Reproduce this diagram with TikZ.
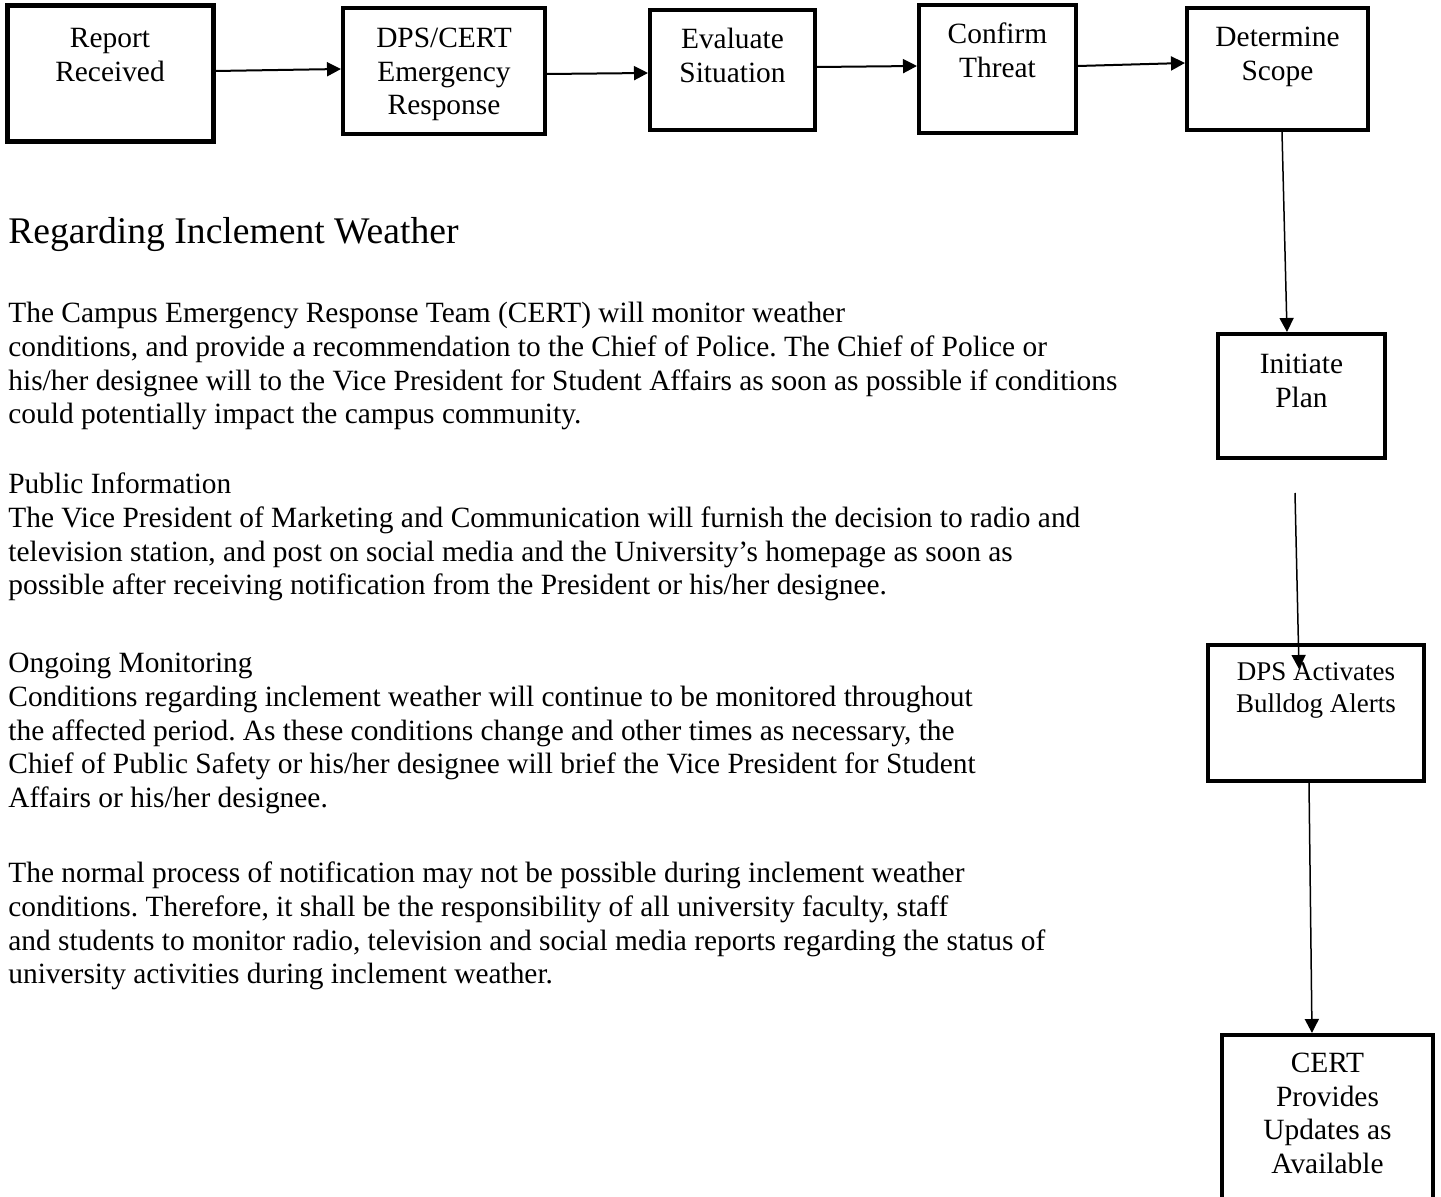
\documentclass[tikz,border=0pt]{standalone}
\usepackage{fontspec}
\setmainfont{Liberation Serif}
\usetikzlibrary{arrows.meta}
\frenchspacing

\begin{document}
\begin{tikzpicture}[x=0.5pt, y=-0.5pt,
  stepbox/.style n args={3}{draw, line width=2pt, inner sep=0pt,
    font=\fontsize{14.7}{16.9}\selectfont,
    execute at begin node={\begin{minipage}[c][#2][t]{#1}\centering\vspace*{#3}\strut},
    execute at end node={\end{minipage}}},
  flow/.style={-{Triangle[length=7pt, width=7pt]}, line width=1pt},
  body/.style={anchor=north west, inner sep=0pt, align=left,
    font=\fontsize{14.7}{16.9}\selectfont}]
  \clip (0,0) rectangle (1441,1197);
  \fill[white] (0,0) rectangle (1441,1197);

  \node[stepbox={103pt}{68pt}{8.8pt}, line width=2.5pt] (rep) at (110,74) {Report\\Received};
  \node[stepbox={101pt}{63pt}{7.8pt}] (dps) at (444,71) {DPS/CERT\\Emergency\\Response};
  \node[stepbox={82.5pt}{60pt}{7.3pt}] (eval) at (732.5,70) {Evaluate\\Situation};
  \node[stepbox={78.5pt}{64pt}{7.3pt}] (conf) at (997.5,69) {Confirm\\Threat};
  \node[stepbox={90.5pt}{61pt}{7.3pt}] (det) at (1277.5,69) {Determine\\Scope};
  \node[stepbox={83.5pt}{62pt}{7.8pt}] (init) at (1301.5,396) {Initiate\\Plan};
  \node[stepbox={108pt}{68pt}{7pt}, font=\fontsize{13.5}{15.6}\selectfont] (alert) at (1316,713) {DPS Activates\\Bulldog Alerts};
  \node[stepbox={105.5pt}{92.5pt}{6.8pt}] (cert) at (1327.5,1127.5) {CERT\\Provides\\Updates as\\Available};

  \draw[flow] ([yshift=1.5pt]rep.east) -- ([yshift=1pt]dps.west);
  \draw[flow] ([yshift=-1.5pt]dps.east) -- ([yshift=-1.5pt]eval.west);
  \draw[flow] ([yshift=1.5pt]eval.east) -- ([yshift=1.5pt]conf.west);
  \draw[flow] ([yshift=1.5pt]conf.east) -- ([yshift=3pt]det.west);
  \draw[flow, line width=0.75pt] ([xshift=2.25pt]det.south) -- ([xshift=-7.25pt]init.north);
  \coordinate (gap) at (1295,493);
  \draw[flow, line width=0.75pt] (gap) -- ([xshift=-8.5pt, yshift=-13pt]alert.north);
  \draw[flow, line width=0.75pt] ([xshift=-3.5pt]alert.south) -- ([xshift=-7.75pt]cert.north);

  \node[anchor=base west, inner sep=0pt, font=\fontsize{18.8}{22}\selectfont] (head) at (8,244) {Regarding Inclement Weather};
  \node[body] (p1) at (8,298.4) {\strut The Campus Emergency Response Team (CERT) will monitor weather\\
    conditions, and provide a recommendation to the Chief of Police. The Chief of Police or\\
    his/her designee will to the Vice President for Student Affairs as soon as possible if conditions\\
    could potentially impact the campus community.};
  \node[body] (p2) at (8,469.4) {\strut Public Information\\
    The Vice President of Marketing and Communication will furnish the decision to radio and\\
    television station, and post on social media and the University’s homepage as soon as\\
    possible after receiving notification from the President or his/her designee.};
  \node[body] (p3) at (8,648.4) {\strut Ongoing Monitoring\\
    Conditions regarding inclement weather will continue to be monitored throughout\\
    the affected period. As these conditions change and other times as necessary, the\\
    Chief of Public Safety or his/her designee will brief the Vice President for Student\\
    Affairs or his/her designee.};
  \node[body] (p4) at (8,858.4) {\strut The normal process of notification may not be possible during inclement weather\\
    conditions. Therefore, it shall be the responsibility of all university faculty, staff\\
    and students to monitor radio, television and social media reports regarding the status of\\
    university activities during inclement weather.};
\end{tikzpicture}
\end{document}
